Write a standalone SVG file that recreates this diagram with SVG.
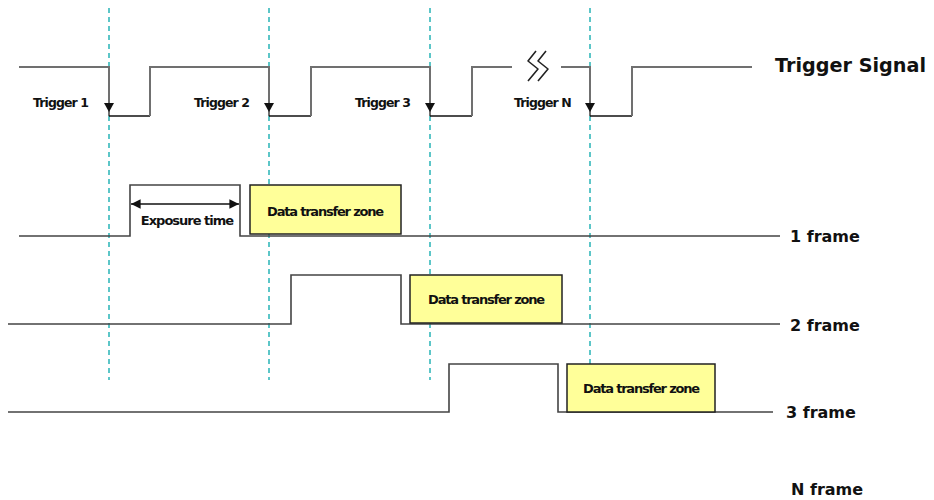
<svg xmlns="http://www.w3.org/2000/svg" width="934" height="500" viewBox="0 0 934 500">
<style>
.sig{fill:none;stroke:#707070;stroke-width:2}
.lo{fill:none;stroke:#111;stroke-width:1.6}
.fr{fill:none;stroke:#444;stroke-width:1.6}
.dash{stroke:#5cc6c8;stroke-width:2;stroke-dasharray:5,4}
.box{fill:#ffff99;stroke:#222;stroke-width:1.5}
.t{font-family:"DejaVu Sans",sans-serif;fill:#111}
.trg{font-size:12.5px;font-weight:bold;letter-spacing:-0.9px}
.dz{font-size:13px;font-weight:bold;letter-spacing:-1.2px;text-anchor:middle}
.fl{font-size:16px;font-weight:bold}
</style>
<defs>
<marker id="ah" viewBox="0 0 10 10" refX="10" refY="5" markerWidth="6" markerHeight="6" orient="auto-start-reverse"><path d="M0,0 L10,5 L0,10 z" fill="#111"/></marker>
</defs>
<g id="connectors">
<line class="dash" x1="109" y1="8" x2="109" y2="380"/>
<line class="dash" x1="269" y1="8" x2="269" y2="380"/>
<line class="dash" x1="430" y1="8" x2="430" y2="380"/>
<line class="dash" x1="590" y1="8" x2="590" y2="380"/>
</g>
<g id="trigger-signal">
<path class="sig" d="M19,67 H109 V116"/>
<path class="lo" d="M109,116 H150"/>
<path class="sig" d="M150,116 V67 H269 V116"/>
<path class="lo" d="M269,116 H311"/>
<path class="sig" d="M311,116 V67 H430 V116"/>
<path class="lo" d="M430,116 H472"/>
<path class="sig" d="M472,116 V67 H512"/>
<path class="sig" d="M561,67 H590 V116"/>
<path class="lo" d="M590,116 H632"/>
<path class="sig" d="M632,116 V67 H752"/>
<path d="M536,51 L528,61 L538,69 L528,81 M546,51 L538,61 L548,69 L538,81" fill="none" stroke="#222" stroke-width="1.6" stroke-linejoin="round"/>
<path d="M104,103 L114,103 L109,112 z" fill="#111"/>
<path d="M264,103 L274,103 L269,112 z" fill="#111"/>
<path d="M425,103 L435,103 L430,112 z" fill="#111"/>
<path d="M585,103 L595,103 L590,112 z" fill="#111"/>
<text class="t" x="775" y="72" font-size="19" font-weight="bold" textLength="151" lengthAdjust="spacingAndGlyphs">Trigger Signal</text>
</g>
<g id="trigger1"><text class="t trg" x="33" y="107">Trigger 1</text></g>
<g id="trigger2"><text class="t trg" x="194" y="107">Trigger 2</text></g>
<g id="trigger3"><text class="t trg" x="355" y="107">Trigger 3</text></g>
<g id="triggerN"><text class="t trg" x="514" y="107">Trigger N</text></g>
<g id="frame1">
<path class="fr" d="M19,236 H130 V185 H240 V236 H780"/>
<line x1="131" y1="204" x2="239" y2="204" stroke="#111" stroke-width="1.6" marker-start="url(#ah)" marker-end="url(#ah)"/>
<text class="t" x="187" y="225" font-size="13" font-weight="bold" text-anchor="middle" letter-spacing="-1">Exposure time</text>
<rect class="box" x="250" y="185" width="151" height="49"/>
<text class="t dz" x="325" y="216">Data transfer zone</text>
<text class="t fl" x="790" y="242">1 frame</text>
</g>
<g id="frame2">
<path class="fr" d="M8,324 H291 V275 H401 V324 H780"/>
<rect class="box" x="410" y="275" width="152" height="48"/>
<text class="t dz" x="486" y="304">Data transfer zone</text>
<text class="t fl" x="790" y="331">2 frame</text>
</g>
<g id="frame3">
<path class="fr" d="M8,412 H449 V364 H558 V412 H773"/>
<rect class="box" x="567" y="364" width="148" height="48"/>
<text class="t dz" x="641" y="393">Data transfer zone</text>
<text class="t fl" x="786" y="418">3 frame</text>
</g>
<g id="frameN">
<text class="t fl" x="791" y="495">N frame</text>
</g>
</svg>
